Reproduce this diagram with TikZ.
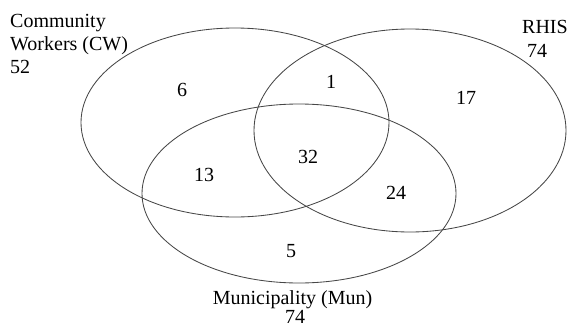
\documentclass[tikz,border=0pt]{standalone}
\usepackage{fontspec}
\setmainfont{Liberation Serif}
\begin{document}
\begin{tikzpicture}[x=1pt,y=-1pt,
  setline/.style={draw=black!72,line width=0.85pt},
  lbl/.style={inner sep=0pt,font=\fontsize{20}{23}\selectfont},
  num/.style={inner sep=0pt,font=\fontsize{20}{23}\selectfont}]
\useasboundingbox (0,0) rectangle (571,327);
\draw[setline] (235,122.5) ellipse [x radius=154pt, y radius=94.5pt];
\draw[setline] (410,130.5) ellipse [x radius=156pt, y radius=101.5pt];
\draw[setline] (299,193.5) ellipse [x radius=157pt, y radius=89.5pt];
\node[lbl,anchor=base west] (cw1) at (10,27) {Community};
\node[lbl,anchor=base west] (cw2) at (10,50) {Workers (CW)};
\node[lbl,anchor=base west] (cw3) at (10,73) {52};
\node[lbl,anchor=base west] (rh1) at (522,33) {RHIS};
\node[lbl,anchor=base west] (rh2) at (527,57) {74};
\node[lbl,anchor=base] (mu1) at (292.5,304) {Municipality (Mun)};
\node[lbl,anchor=base] (mu2) at (295,323) {74};
\node[num] (n6) at (182,90) {6};
\node[num] (n1) at (331,82) {1};
\node[num] (n17) at (466,98) {17};
\node[num] (n13) at (204,175) {13};
\node[num] (n32) at (308,157) {32};
\node[num] (n24) at (396,193) {24};
\node[num] (n5) at (291,251) {5};
\end{tikzpicture}
\end{document}
